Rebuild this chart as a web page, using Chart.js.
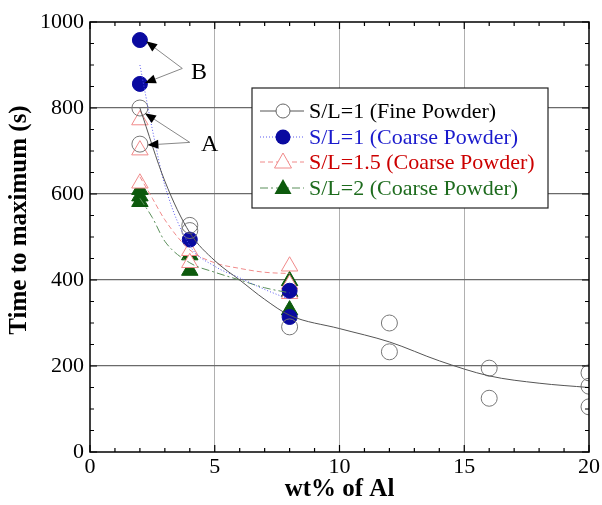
<!DOCTYPE html>
<html>
<head>
<meta charset="utf-8">
<script src="https://cdn.jsdelivr.net/npm/chart.js@4.4.1/dist/chart.umd.min.js"></script>
<style>
  html, body { margin: 0; padding: 0; background: #fff; }
  #wrap { width: 602px; height: 505px; }
</style>
</head>
<body>
<div id="wrap"><canvas id="chart" width="602" height="505"></canvas></div>
<script>
// --- data ---
const seriesNames = [
  "S/L=1 (Fine Powder)",
  "S/L=1 (Coarse Powder)",
  "S/L=1.5 (Coarse Powder)",
  "S/L=2 (Coarse Powder)"
];

const fineX = [2, 2, 4, 4, 8, 12, 12, 16, 16, 20, 20, 20];
const fineY = [800, 716, 527, 515, 291, 300, 233, 195, 125, 184, 153, 105];
const fineFitX = [2, 3, 4, 5, 6, 7, 8, 10, 12, 14, 16, 18, 20];
const fineFitY = [800, 630, 510, 445, 400, 355, 318, 287, 256, 212, 177, 160, 150];

const coarse1X = [2, 2, 4, 8, 8];
const coarse1Y = [958, 856, 494, 375, 314];
const coarse1FitX = [2, 2.5, 3, 4, 5, 6, 7, 8];
const coarse1FitY = [900, 750, 620, 480, 432, 405, 378, 355];

const coarse15X = [2, 2, 2, 4, 4, 8, 8, 8];
const coarse15Y = [772, 702, 625, 468, 440, 432, 390, 368];
const coarse15FitX = [2, 2.5, 3, 4, 5, 6, 7, 8];
const coarse15FitY = [640, 590, 540, 470, 440, 427, 418, 415];

const coarse2X = [2, 2, 2, 4, 4, 8, 8, 8];
const coarse2Y = [610, 595, 582, 458, 422, 398, 373, 330];
const coarse2FitX = [2, 2.5, 3, 4, 5, 6, 7, 8];
const coarse2FitY = [590, 545, 490, 440, 418, 400, 382, 370];

const xTicks = [0, 5, 10, 15, 20];
const yTicks = [0, 200, 400, 600, 800, 1000];
const xTitle = "wt% of Al";
const yTitle = "Time to maximum (s)";

// annotation labels, positioned in data units
const notes = [
  { text: "B", at: [4.05, 885], tail: [3.7, 892], heads: [[2.25, 955], [2.2, 858]] },
  { text: "A", at: [4.45, 718], tail: [4.0, 720], heads: [[2.2, 788], [2.3, 714]] }
];

const pts = (xs, ys) => xs.map((x, i) => ({ x: x, y: ys[i] }));

const serif = "'Liberation Serif', 'DejaVu Serif', serif";
const colors = {
  fine: "#555555",
  blue: "#0a0aa0",
  blueLine: "#5a5af0",
  red: "#f08a8a",
  redText: "#cc0000",
  green: "#0d5a0d",
  greenLine: "#5a8f5a",
  blueText: "#1a1acc",
  greenText: "#1d6b1d"
};

// frame, inward ticks, y title, arrows and legend
const decorations = {
  id: "decorations",
  afterDraw(chart) {
    const ctx = chart.ctx;
    const a = chart.chartArea;
    const xs = chart.scales.x, ys = chart.scales.y;
    ctx.save();
    // frame
    ctx.strokeStyle = "#000";
    ctx.lineWidth = 1.5;
    ctx.strokeRect(a.left, a.top, a.right - a.left, a.bottom - a.top);
    // ticks
    ctx.lineWidth = 1.2;
    for (let v = 0; v <= 20; v++) {
      const px = xs.getPixelForValue(v);
      const len = v % 5 === 0 ? 7 : 4;
      ctx.beginPath();
      ctx.moveTo(px, a.bottom); ctx.lineTo(px, a.bottom - len);
      ctx.moveTo(px, a.top); ctx.lineTo(px, a.top + len);
      ctx.stroke();
    }
    for (let v = 0; v <= 1000; v += 50) {
      const py = ys.getPixelForValue(v);
      const len = v % 200 === 0 ? 7 : 4;
      ctx.beginPath();
      ctx.moveTo(a.left, py); ctx.lineTo(a.left + len, py);
      ctx.moveTo(a.right, py); ctx.lineTo(a.right - len, py);
      ctx.stroke();
    }
    // y title (sits a little above the axis middle in the original)
    ctx.save();
    ctx.translate(20, 220);
    ctx.rotate(-Math.PI / 2);
    ctx.fillStyle = "#000";
    ctx.font = "bold 25px " + serif;
    ctx.textAlign = "center";
    ctx.textBaseline = "middle";
    ctx.fillText(yTitle, 0, 0);
    ctx.restore();
    // arrows
    notes.forEach(n => {
      const tx = xs.getPixelForValue(n.tail[0]), ty = ys.getPixelForValue(n.tail[1]);
      n.heads.forEach(h => {
        const hx = xs.getPixelForValue(h[0]), hy = ys.getPixelForValue(h[1]);
        const ang = Math.atan2(hy - ty, hx - tx);
        const L = 11, W = 4.5;
        const bx = hx - L * Math.cos(ang), by = hy - L * Math.sin(ang);
        ctx.strokeStyle = "#888";
        ctx.lineWidth = 1;
        ctx.beginPath(); ctx.moveTo(tx, ty); ctx.lineTo(bx, by); ctx.stroke();
        ctx.fillStyle = "#000";
        ctx.beginPath();
        ctx.moveTo(hx, hy);
        ctx.lineTo(bx + W * Math.sin(ang), by - W * Math.cos(ang));
        ctx.lineTo(bx - W * Math.sin(ang), by + W * Math.cos(ang));
        ctx.closePath(); ctx.fill();
      });
      ctx.fillStyle = "#000";
      ctx.font = "24px " + serif;
      ctx.textAlign = "left";
      ctx.textBaseline = "middle";
      ctx.fillText(n.text, xs.getPixelForValue(n.at[0]), ys.getPixelForValue(n.at[1]) + 1);
    });
    // legend
    const lx = 252, ly = 88, lw = 296, lh = 120;
    ctx.fillStyle = "#fff";
    ctx.fillRect(lx, ly, lw, lh);
    ctx.strokeStyle = "#222";
    ctx.lineWidth = 1.2;
    ctx.strokeRect(lx, ly, lw, lh);
    const rows = [111, 137, 162, 188];
    const textCols = ["#000", colors.blueText, colors.redText, colors.greenText];
    const lineSpecs = [
      { c: colors.fine, d: [] },
      { c: colors.blueLine, d: [1, 2] },
      { c: colors.red, d: [5, 3] },
      { c: colors.greenLine, d: [8, 3, 2, 3] }
    ];
    rows.forEach((ry, i) => {
      ctx.strokeStyle = lineSpecs[i].c;
      ctx.setLineDash(lineSpecs[i].d);
      ctx.lineWidth = 1;
      ctx.beginPath(); ctx.moveTo(260, ry); ctx.lineTo(304, ry); ctx.stroke();
      ctx.setLineDash([]);
      const mx = 283;
      if (i === 0) {
        ctx.fillStyle = "#fff"; ctx.strokeStyle = "#666";
        ctx.beginPath(); ctx.arc(mx, ry, 7, 0, Math.PI * 2); ctx.fill(); ctx.stroke();
      } else if (i === 1) {
        ctx.fillStyle = colors.blue;
        ctx.beginPath(); ctx.arc(mx, ry, 7.5, 0, Math.PI * 2); ctx.fill();
      } else {
        ctx.beginPath();
        ctx.moveTo(mx, ry - 9); ctx.lineTo(mx + 8.5, ry + 6); ctx.lineTo(mx - 8.5, ry + 6);
        ctx.closePath();
        if (i === 2) { ctx.fillStyle = "#fff"; ctx.fill(); ctx.strokeStyle = colors.red; ctx.stroke(); }
        else { ctx.fillStyle = colors.green; ctx.fill(); }
      }
      ctx.fillStyle = textCols[i];
      ctx.font = "22px " + serif;
      ctx.textAlign = "left";
      ctx.textBaseline = "middle";
      ctx.fillText(seriesNames[i], 309, ry + 1);
    });
    ctx.restore();
  }
};

const fitLine = (data, color, dash) => ({
  data: data,
  showLine: true,
  borderColor: color,
  borderWidth: 1,
  borderDash: dash,
  pointRadius: 0,
  cubicInterpolationMode: "monotone",
  fill: false
});

new Chart(document.getElementById("chart").getContext("2d"), {
  type: "scatter",
  data: {
    datasets: [
      fitLine(pts(fineFitX, fineFitY), colors.fine, []),
      fitLine(pts(coarse1FitX, coarse1FitY), colors.blueLine, [1, 2]),
      fitLine(pts(coarse15FitX, coarse15FitY), colors.red, [5, 3]),
      fitLine(pts(coarse2FitX, coarse2FitY), colors.greenLine, [8, 3, 2, 3]),
      {
        label: seriesNames[0],
        data: pts(fineX, fineY),
        pointStyle: "circle", pointRadius: 8,
        backgroundColor: "rgba(255,255,255,0)", borderColor: "#777", borderWidth: 1
      },
      {
        label: seriesNames[1],
        data: pts(coarse1X, coarse1Y),
        pointStyle: "circle", pointRadius: 7.5,
        backgroundColor: colors.blue, borderColor: colors.blue, borderWidth: 1
      },
      {
        label: seriesNames[2],
        data: pts(coarse15X, coarse15Y),
        pointStyle: "triangle", pointRadius: 9.5,
        backgroundColor: "#fff", borderColor: colors.red, borderWidth: 1
      },
      {
        label: seriesNames[3],
        data: pts(coarse2X, coarse2Y),
        pointStyle: "triangle", pointRadius: 9.5,
        backgroundColor: colors.green, borderColor: colors.green, borderWidth: 1
      }
    ]
  },
  options: {
    responsive: false,
    animation: false,
    layout: { padding: { top: 22, right: 12, left: 0, bottom: 0 } },
    plugins: { legend: { display: false }, tooltip: { enabled: false } },
    scales: {
      x: {
        type: "linear", min: 0, max: 20,
        afterBuildTicks: s => { s.ticks = xTicks.map(v => ({ value: v })); },
        afterFit: s => { s.height = 53; },
        grid: {
          color: c => (c.tick.value === 0 || c.tick.value === 20) ? "rgba(0,0,0,0)" : "#b0b0b0",
          lineWidth: 1, drawTicks: false
        },
        border: { display: false },
        ticks: {
          padding: 2, color: "#000", font: { family: serif, size: 22 }, maxRotation: 0,
          callback: v => String(v)
        },
        title: {
          display: true, text: xTitle, color: "#000", padding: { top: 4, bottom: 0 },
          font: { family: serif, size: 25, weight: "bold" }
        }
      },
      y: {
        type: "linear", min: 0, max: 1000,
        afterBuildTicks: s => { s.ticks = yTicks.map(v => ({ value: v })); },
        afterFit: s => { s.width = 90; },
        grid: {
          color: c => (c.tick.value === 0 || c.tick.value === 1000) ? "rgba(0,0,0,0)" : "#6a6a6a",
          lineWidth: 1.2, drawTicks: false
        },
        border: { display: false },
        ticks: {
          padding: 6, color: "#000", font: { family: serif, size: 22 },
          callback: v => String(v)
        },
        title: { display: false }
      }
    }
  },
  plugins: [decorations]
});
</script>
</body>
</html>
